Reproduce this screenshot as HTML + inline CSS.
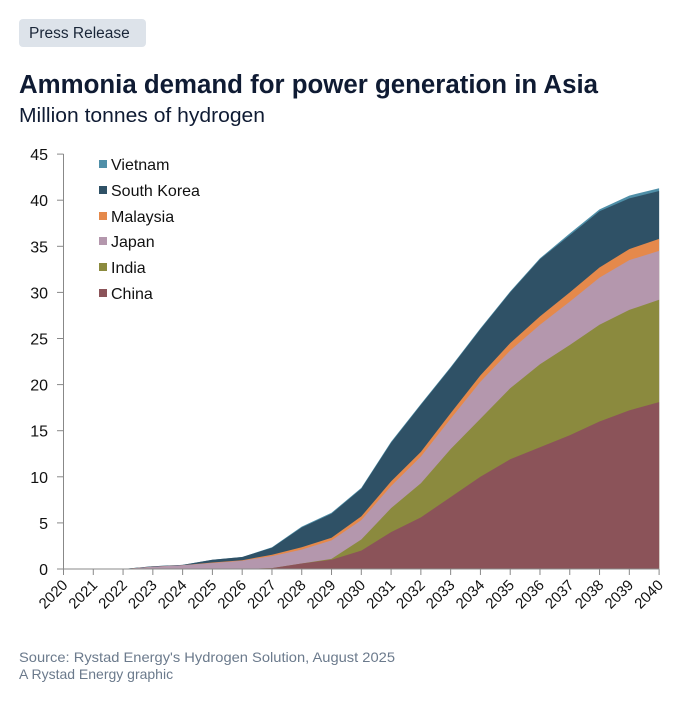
<!DOCTYPE html>
<html><head><meta charset="utf-8"><style>
body{margin:0;background:#fff;width:700px;height:697px;overflow:hidden;font-family:"Liberation Sans",sans-serif}
</style></head><body>
<svg width="700" height="697" xmlns="http://www.w3.org/2000/svg" font-family="Liberation Sans, sans-serif">
<rect x="19" y="19" width="127" height="28" rx="4" fill="#dde3ea"/>
<text x="29" y="38" font-size="15.5" fill="#1a2638">Press Release</text>
<text x="19" y="93" font-size="25.5" font-weight="bold" fill="#0f1b33" textLength="579" lengthAdjust="spacingAndGlyphs">Ammonia demand for power generation in Asia</text>
<text x="19" y="122" font-size="20" fill="#0f1b33" textLength="246" lengthAdjust="spacingAndGlyphs">Million tonnes of hydrogen</text>
<g id="areas"></g>
<g id="axes" stroke="#888" stroke-width="1"></g>
<g id="ylab" font-size="16" fill="#111" text-anchor="end"></g>
<g id="xlab" font-size="15" fill="#111"></g>
<g font-size="16" fill="#111">
<rect x="99" y="160" width="8" height="8" fill="#4f8fa8"/><text x="111" y="170">Vietnam</text>
<rect x="99" y="186" width="8" height="8" fill="#2f5166"/><text x="111" y="196">South Korea</text>
<rect x="99" y="212" width="8" height="8" fill="#e5894b"/><text x="111" y="222">Malaysia</text>
<rect x="99" y="237" width="8" height="8" fill="#b497ad"/><text x="111" y="247">Japan</text>
<rect x="99" y="263" width="8" height="8" fill="#8b8a3e"/><text x="111" y="273">India</text>
<rect x="99" y="289" width="8" height="8" fill="#8b5359"/><text x="111" y="299">China</text>
</g>
<text x="19" y="662" font-size="14" fill="#6b7a8c" textLength="376" lengthAdjust="spacingAndGlyphs">Source: Rystad Energy's Hydrogen Solution, August 2025</text>
<text x="19" y="679" font-size="14" fill="#6b7a8c">A Rystad Energy graphic</text>
</svg>
<script>
const X0=63.5,DX=29.78,Y0=569,PY=9.22;
const ns="http://www.w3.org/2000/svg";
const cum={
china:[0,0,0,0,0,0,0,0.1,0.6,1.0,2.0,4.0,5.6,7.8,10.0,11.9,13.2,14.5,16.0,17.2,18.1],
india:[0,0,0,0,0,0,0,0.1,0.6,1.1,3.2,6.6,9.3,13,16.3,19.6,22.2,24.3,26.5,28.1,29.2],
japan:[0,0,0,0.25,0.4,0.65,0.9,1.4,2.1,3.1,5.3,9.0,12.2,16.3,20.3,23.7,26.5,29.0,31.6,33.5,34.5],
malay:[0,0,0,0.25,0.4,0.7,0.95,1.55,2.35,3.4,5.7,9.5,12.7,16.9,21.0,24.5,27.4,30.0,32.7,34.7,35.8],
sk:[0,0,0,0.3,0.45,1.0,1.3,2.3,4.5,6.0,8.7,13.7,17.8,21.8,26.0,30.0,33.6,36.2,38.8,40.2,41.0],
vn:[0,0,0,0.3,0.45,1.0,1.3,2.35,4.6,6.1,8.8,13.8,17.9,21.9,26.1,30.1,33.7,36.4,39.0,40.5,41.3]};
const order=[["vn","#4f8fa8"],["sk","#2f5166"],["malay","#e5894b"],["japan","#b497ad"],["india","#8b8a3e"],["china","#8b5359"]];
const g=document.getElementById("areas");
for(const [k,c] of order){let d="M"+X0+","+Y0;cum[k].forEach((v,i)=>{d+=" L"+(X0+i*DX).toFixed(1)+","+(Y0-v*PY).toFixed(1)});d+=" L"+(X0+20*DX)+","+Y0+"Z";
const p=document.createElementNS(ns,"path");p.setAttribute("d",d);p.setAttribute("fill",c);g.appendChild(p);}
const ax=document.getElementById("axes"),yl=document.getElementById("ylab"),xl=document.getElementById("xlab");
function line(a,b,c,d){const l=document.createElementNS(ns,"line");l.setAttribute("x1",a);l.setAttribute("y1",b);l.setAttribute("x2",c);l.setAttribute("y2",d);ax.appendChild(l);}
line(X0,154,X0,Y0);line(X0,Y0,X0+20*DX,Y0);
for(let v=0;v<=45;v+=5){const y=Y0-v*PY;line(57,y,X0,y);const t=document.createElementNS(ns,"text");t.setAttribute("x",48);t.setAttribute("y",y+6);t.textContent=v;yl.appendChild(t);}
for(let i=0;i<=20;i++){const x=X0+i*DX;line(x,Y0,x,Y0+6);const t=document.createElementNS(ns,"text");t.setAttribute("transform","translate("+(x+5)+","+(Y0+17)+") rotate(-45)");t.setAttribute("text-anchor","end");t.textContent=2020+i;xl.appendChild(t);}
</script>
</body></html>
